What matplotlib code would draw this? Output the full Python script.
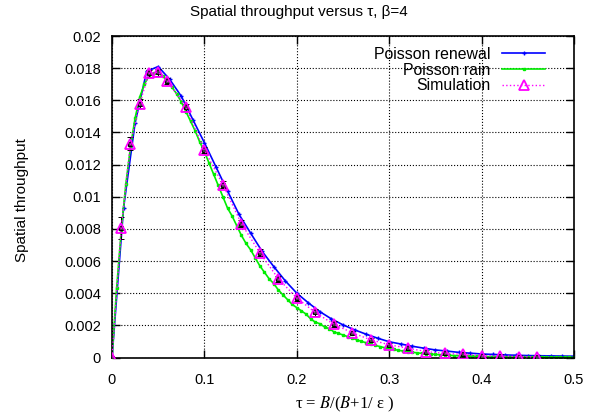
import matplotlib.pyplot as plt
import numpy as np

plt.rcParams['font.family'] = ['Liberation Sans', 'DejaVu Sans']
plt.rcParams['mathtext.fontset'] = 'stix'

# Poisson renewal (analysis), tau step 0.0125
renewal_x = np.arange(41) * 0.0125
renewal_y = [0, 0.0093, 0.0146, 0.0178, 0.0181, 0.0173, 0.01625, 0.0148,
             0.01336, 0.01186, 0.01036, 0.0089, 0.00774, 0.0066, 0.00566,
             0.00477, 0.0040, 0.0034, 0.00285, 0.0024, 0.00203, 0.00172,
             0.00145, 0.0012, 0.00098, 0.00084, 0.0007, 0.00058, 0.00047,
             0.0004, 0.00032, 0.00027, 0.00022, 0.00019, 0.00016, 0.00014,
             0.00012, 0.00011, 0.0001, 0.00009, 0.00008]

# Poisson rain (analysis), tau step 0.005
rain_x = np.arange(101) * 0.005
rain_y = [0, 0.0043, 0.0079, 0.0108, 0.0131, 0.0149, 0.0162, 0.0170, 0.0175,
          0.0177, 0.0177, 0.0175, 0.0172, 0.0168, 0.0164, 0.0159, 0.0153,
          0.0147, 0.0141, 0.0134, 0.0128, 0.0121, 0.0114, 0.0107, 0.0100,
          0.0093, 0.0088, 0.0082, 0.0076, 0.0071, 0.0067, 0.0062, 0.0057,
          0.0053, 0.0049, 0.0046, 0.0042, 0.0039, 0.0036, 0.0033, 0.0031,
          0.0029, 0.0027, 0.0024, 0.0022, 0.0021, 0.0019, 0.0018, 0.0016,
          0.0015, 0.0014, 0.0013, 0.0012, 0.0011, 0.0010, 0.00092, 0.00083,
          0.00075, 0.00068, 0.00061, 0.00055, 0.00050, 0.00045, 0.00040,
          0.00036, 0.00033, 0.00029, 0.00026, 0.00024, 0.00021, 0.00019,
          0.00017, 0.00015, 0.00014, 0.00012, 0.00011, 0.00010, 0.00009,
          0.00008, 0.00007, 0.00006, 0.000055, 0.00005, 0.000045, 0.00004,
          0.000035, 0.00003, 0.000028, 0.000025, 0.000022, 0.00002,
          0.000018, 0.000016, 0.000014, 0.000012, 0.00001, 0.000009,
          0.000008, 0.000007, 0.000006, 0.000005]

# Simulation with error bars
sim_x = [0, 0.01, 0.02, 0.03, 0.04, 0.05, 0.06, 0.08, 0.10, 0.12, 0.14, 0.16,
         0.18, 0.20, 0.22, 0.24, 0.26, 0.28, 0.30, 0.32, 0.34, 0.36, 0.38,
         0.40, 0.42, 0.44, 0.46]
sim_y = [0, 0.00806, 0.0133, 0.0158, 0.01768, 0.01774, 0.0172, 0.01556,
         0.0129, 0.01076, 0.00833, 0.00652, 0.0049, 0.0037, 0.0028, 0.00207,
         0.00154, 0.0011, 0.00079, 0.00058, 0.00037, 0.00025, 0.0002, 0.0001,
         0.0001, 0.00006, 0.00003]
sim_err = [0, 0.0007, 0.0004, 0.0003, 0.0002, 0.0002, 0.0002, 0.0002, 0.0002,
           0.0002, 0.0002, 0.0002, 0.0002, 0.0002, 0.0002, 0.0002, 0.0001,
           0.0001, 0.0001, 0.0001, 0.0001, 0.0001, 0.0001, 0.0001, 0.0001,
           0.0001, 0.0001]

fig = plt.figure(figsize=(6.02, 4.17), dpi=100)
ax = fig.add_axes([112 / 602, 1 - 357.5 / 417, 462 / 602, 321.5 / 417])

ax.plot(renewal_x, renewal_y, color='#0000ff', lw=1.2, marker='+', ms=3,
        mew=1.0, label='Poisson renewal')
ax.plot(rain_x, rain_y, color='#00ee00', lw=1.2, marker='s', ms=2.0,
        label='Poisson rain')
ax.errorbar(sim_x, sim_y, yerr=sim_err, fmt='s', ms=3, mfc='#444444',
            mec='black', mew=0.7, ecolor='black', elinewidth=0.7,
            capsize=2, ls='none', zorder=4)
ax.plot(sim_x, sim_y, color='#ff00ff', lw=1.0, ls=':', marker='^', ms=6.5,
        mfc='none', mec='#ff00ff', mew=1.3, label='Simulation', zorder=5)

ax.set_xlim(0, 0.5)
ax.set_ylim(0, 0.02)
ax.set_xticks([0, 0.1, 0.2, 0.3, 0.4, 0.5])
ax.set_xticklabels(['0', '0.1', '0.2', '0.3', '0.4', '0.5'])
ax.set_yticks(np.arange(0, 0.0201, 0.002))
ax.set_yticklabels(['0', '0.002', '0.004', '0.006', '0.008', '0.01', '0.012',
                    '0.014', '0.016', '0.018', '0.02'])
ax.tick_params(direction='in', length=6, width=1, top=True, right=True,
               labelsize=10.5)
ax.tick_params(axis='y', pad=8)
ax.tick_params(axis='x', pad=11)
ax.grid(True, color='black', ls=':', lw=0.8)
for s in ax.spines.values():
    s.set_linewidth(1.2)

fig.text(0.496, 1 - 12 / 417, 'Spatial throughput versus τ, β=4',
         ha='center', va='center', fontsize=11)
fig.text(22 / 602, 1 - 200 / 417, 'Spatial throughput', rotation=90,
         ha='center', va='center', fontsize=11)
fig.text(345 / 602, 1 - 404 / 417, 'τ = $B$/($B$+1/ ε )',
         family='Liberation Serif', ha='center', va='center', fontsize=12)

ax.legend(loc='upper right', bbox_to_anchor=(553 / 602, 1 - 39 / 417),
          bbox_transform=fig.transFigure, frameon=False, markerfirst=False,
          alignment='right', fontsize=11.4, borderpad=0, labelspacing=0.04,
          handlelength=2.7, handletextpad=0.74)

fig.savefig('out.png', dpi=100)
